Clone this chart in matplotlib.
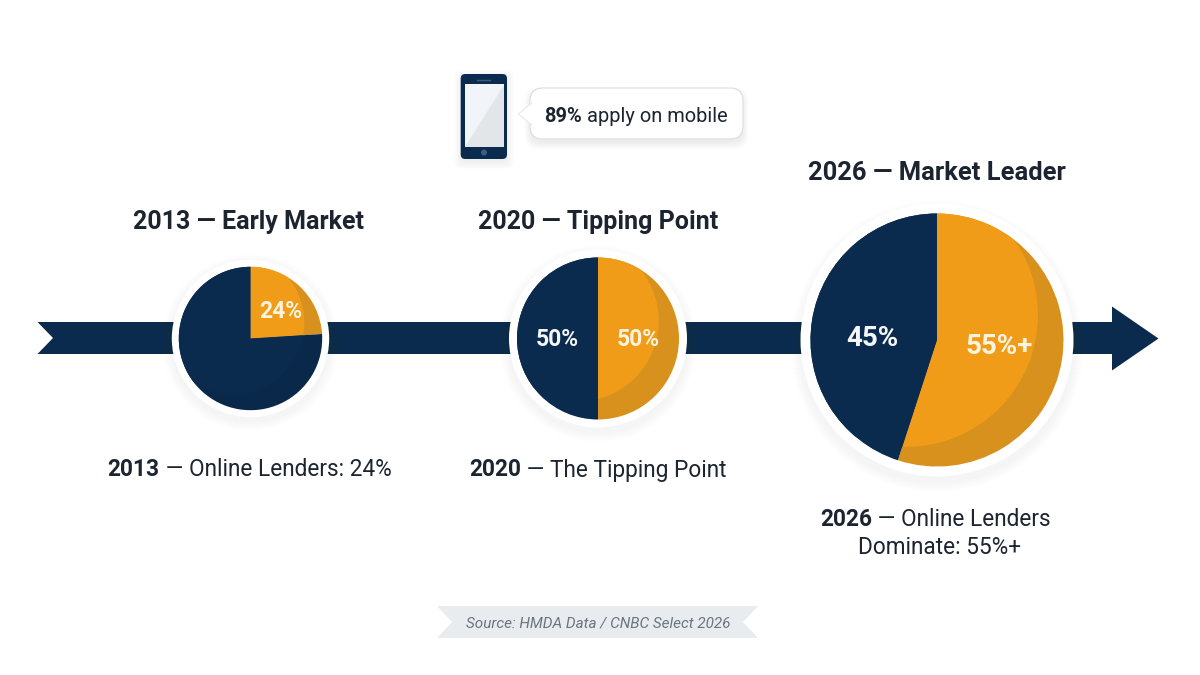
import matplotlib
matplotlib.use("Agg")
import matplotlib.pyplot as plt
from matplotlib.patches import Circle, FancyBboxPatch, Polygon

plt.rcParams["font.family"] = ["Roboto", "DejaVu Sans"]

# ---- data ----
online_share = [24, 50, 55]
other_share = [76, 50, 45]
online_labels = ["24%", "50%", "55%+"]
other_labels = ["", "50%", "45%"]
headings = ["2013 — Early Market", "2020 — Tipping Point", "2026 — Market Leader"]
caption_years = ["2013", "2020", "2026"]
caption_rest = [" — Online Lenders: 24%", " — The Tipping Point", " — Online Lenders"]
caption_extra = "Dominate: 55%+"
mobile_share = "89%"
mobile_text = " apply on mobile"
source_text = "Source: HMDA Data / CNBC Select 2026"

# ---- palette ----
NAVY = "#0B2B4E"
NAVY_SHADE = ["#0A294A", NAVY, NAVY]
ORANGE = "#F09C18"
ORANGE_DARK = "#D8911C"
INK = "#1C2430"
CREAM = "#FDF3DF"

fig = plt.figure(figsize=(12, 6.75), dpi=100, facecolor="white")
ax = fig.add_axes([0, 0, 1, 1])


def Y(y):
    """Convert a top-down pixel row to the axes' upward coordinate."""
    return 675 - y


def soft_circle(cx, cy, r, dy=5, spread=10, z=2):
    # stacked translucent discs give a soft drop shadow
    for i in range(spread):
        ax.add_patch(Circle((cx, Y(cy + dy)), r + spread - i, fc="#20303f",
                            ec="none", alpha=0.005, zorder=z))


def mixed_text(xc, y, runs, size):
    """Centre a line built from (text, weight) pieces on xc."""
    renderer = fig.canvas.get_renderer()
    items = [ax.text(0, Y(y), t, fontsize=size, fontweight=w, color=INK,
                     va="center", ha="left", zorder=12) for t, w in runs]
    widths = [it.get_window_extent(renderer).width for it in items]
    x = xc - sum(widths) / 2
    for it, w in zip(items, widths):
        it.set_x(x)
        x += w


# timeline band with a swallow tail and arrow head
ax.add_patch(Polygon([(37.5, Y(322)), (1112, Y(322)), (1112, Y(306.5)), (1158.5, Y(338.5)),
                      (1112, Y(370.5)), (1112, Y(354)), (37.5, Y(354)), (53, Y(338))],
                     closed=True, fc=NAVY, ec="none", zorder=1))

# pies: centre x, centre y, radius, ring width, and the highlight disc offsets
cx_list = [250.5, 598, 937]
cy_list = [338.5, 338.5, 340]
radius_list = [71.7, 81, 126.5]
ring_list = [7, 8, 10]
glow_list = [(-0.25, 0.22, 1.0), (-0.25, 0.22, 1.0), (-0.245, 0.198, 1.043)]
label_online_xy = [(281, 311), (638, 340), (999, 346)]
label_other_xy = [None, (557, 340), (872, 338)]
label_size = [16.5, 16.5, 20]

for i in range(3):
    cx, cy, r = cx_list[i], cy_list[i], radius_list[i]
    soft_circle(cx, cy, r + ring_list[i], dy=4 + i)
    ax.add_patch(Circle((cx, Y(cy)), r + ring_list[i], fc="white", ec="none", zorder=3))
    wedges, _ = ax.pie([online_share[i], other_share[i]], colors=[ORANGE_DARK, NAVY_SHADE[i]],
                       startangle=90, counterclock=False, radius=r, center=(cx, Y(cy)),
                       wedgeprops={"linewidth": 0, "zorder": 4})
    dx, dy, k = glow_list[i]
    for wedge, colour in zip(wedges, [ORANGE, NAVY]):
        disc = Circle((cx + dx * r, Y(cy) + dy * r), k * r, fc=colour, ec="none", zorder=5)
        ax.add_patch(disc)
        disc.set_clip_path(wedge)
    ax.text(label_online_xy[i][0], Y(label_online_xy[i][1]), online_labels[i], color=CREAM,
            fontsize=label_size[i], fontweight="bold", ha="center", va="center", zorder=8)
    if label_other_xy[i]:
        ax.text(label_other_xy[i][0], Y(label_other_xy[i][1]), other_labels[i], color="#F4F6F8",
                fontsize=label_size[i], fontweight="bold", ha="center", va="center", zorder=8)

# headings
heading_xy = [(248.5, 222), (598, 222), (937, 173)]
heading_size = [18, 18, 18.4]
for (x, y), t, s in zip(heading_xy, headings, heading_size):
    ax.text(x, Y(y), t, fontsize=s, fontweight="bold", color=INK, ha="center", va="center", zorder=12)

# captions under each pie
caption_xy = [(249.5, 470), (598, 470), (935.5, 519)]
for (x, y), yr, rest in zip(caption_xy, caption_years, caption_rest):
    mixed_text(x, y, [(yr, "bold"), (rest, "normal")], 16.3)
ax.text(940, Y(547), caption_extra, fontsize=16.3, color=INK, ha="center", va="center", zorder=12)

# phone icon
for i in range(8):
    ax.add_patch(FancyBboxPatch((461 - i, Y(162 + i)), 46 + 2 * i, 85 + 2 * i,
                                boxstyle="round,pad=0,rounding_size=6", fc="#20303f", ec="none",
                                alpha=0.006, zorder=2))
ax.add_patch(FancyBboxPatch((460.7, Y(159)), 46.3, 85, boxstyle="round,pad=0,rounding_size=4.5",
                            fc=NAVY, ec="none", zorder=3))
ax.add_patch(Polygon([(464.5, Y(84)), (504, Y(84)), (504, Y(146.5)), (464.5, Y(146.5))],
                     fc="#F1F5FA", ec="none", zorder=4))
ax.add_patch(Polygon([(504, Y(85)), (504, Y(146.5)), (465, Y(146.5))], fc="#E3E6E9", ec="none", zorder=5))
ax.plot([477, 490], [Y(79.5), Y(79.5)], color="#3C5B7C", lw=1.0, zorder=5)
ax.add_patch(Circle((484, Y(152.5)), 3, fc="#3F5F80", ec="none", zorder=5))

# speech bubble
for i in range(9):
    ax.add_patch(FancyBboxPatch((530 - i * 0.7, Y(143 + i * 0.8)), 213 + 1.4 * i, 51 + 1.4 * i,
                                boxstyle="round,pad=0,rounding_size=14", fc="#20303f", ec="none",
                                alpha=0.007, zorder=2))
ax.add_patch(FancyBboxPatch((530, Y(139)), 213, 51, boxstyle="round,pad=0,rounding_size=13",
                            fc="white", ec="#DADDE0", lw=0.8, zorder=3))
ax.add_patch(Polygon([(531.5, Y(103)), (518.5, Y(114)), (531.5, Y(125))], fc="white",
                     ec="#E4E6E8", lw=0.7, zorder=4))
ax.add_patch(Polygon([(532, Y(104)), (532, Y(124)), (529, Y(122)), (529, Y(106))], fc="white",
                     ec="none", zorder=4))
mixed_text(636, 116, [(mobile_share, "bold"), (mobile_text, "normal")], 14.4)

# source ribbon
ax.add_patch(Polygon([(437, Y(606)), (758, Y(606)), (743, Y(622)), (758, Y(638)),
                      (437, Y(638)), (452, Y(622))], fc="#E8ECEF", ec="none", zorder=2))
ax.text(598, Y(623), source_text, fontsize=11, style="italic", color="#6B7480",
        ha="center", va="center", zorder=3)

ax.set_xlim(0, 1200)
ax.set_ylim(0, 675)
ax.set_aspect("auto")
ax.axis("off")
fig.savefig("out.png", dpi=100, facecolor="white")
